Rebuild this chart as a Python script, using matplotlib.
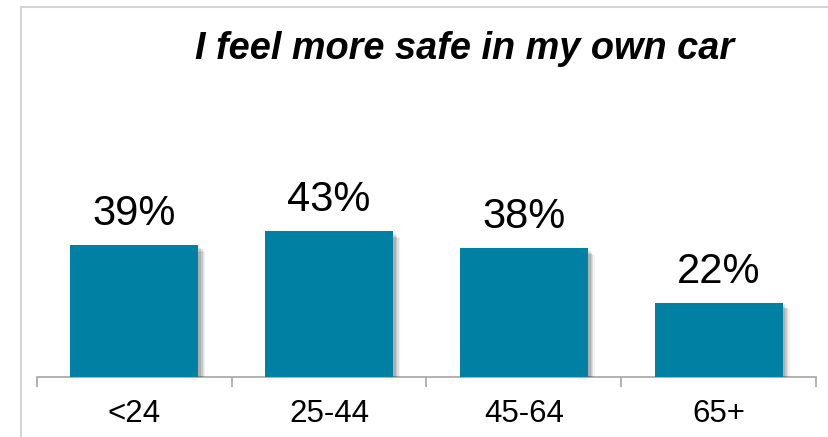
import matplotlib
matplotlib.use("Agg")
import matplotlib.pyplot as plt
import matplotlib.patheffects as pe
from matplotlib.lines import Line2D

categories = ["<24", "25-44", "45-64", "65+"]
values = [39, 43, 38, 22]
value_labels = ["39%", "43%", "38%", "22%"]
title = "I feel more safe in my own car"

plt.rcParams['font.family'] = ['Liberation Sans', 'DejaVu Sans']

W, H = 829, 437
fig = plt.figure(figsize=(W / 100, H / 100), dpi=100)
fig.patch.set_facecolor('white')

# outer border (left and top)
fig.add_artist(Line2D([21.5 / W, 21.5 / W], [0, (H - 6.5) / H], color='#d4d4d4', lw=1.5,
                      transform=fig.transFigure))
fig.add_artist(Line2D([21.5 / W, 1.0], [(H - 6.5) / H, (H - 6.5) / H], color='#d4d4d4', lw=1.5,
                      transform=fig.transFigure))

ax = fig.add_axes([37 / W, 60 / H, 779 / W, 338.5 / H])
x = list(range(len(categories)))

shadows = [pe.SimplePatchShadow(offset=(o, -o), shadow_rgbFace='#000000', alpha=a)
           for o, a in [(5, 0.05), (4, 0.08), (3, 0.10), (2, 0.12)]]
bars = ax.bar(x, values, width=0.657, color='#0080A3', zorder=3,
              path_effects=shadows + [pe.Normal()])

for xi, v, lab in zip(x, values, value_labels):
    ax.annotate(lab, xy=(xi, v), xytext=(0, 14.4), textcoords='offset points',
                ha='center', va='baseline', fontsize=30, color='black')

ax.set_xlim(-0.5, len(categories) - 0.5)
ax.set_ylim(0, 100)

for s in ['top', 'right', 'left']:
    ax.spines[s].set_visible(False)
ax.spines['bottom'].set_color('#a6a6a6')
ax.spines['bottom'].set_linewidth(1.2)
ax.set_yticks([])

ax.set_xticks([i - 0.5 for i in range(len(categories) + 1)])
ax.set_xticklabels([])
ax.tick_params(axis='x', which='major', length=7, width=1.2, color='#a6a6a6', direction='out')
ax.set_xticks(x, minor=True)
ax.set_xticklabels(categories, minor=True, fontsize=22.5)
ax.tick_params(axis='x', which='minor', length=0, pad=15.5)

fig.text(465 / W, (H - 59) / H, title, ha='center', va='baseline', fontsize=27.3,
         fontweight='bold', fontstyle='italic', color='black')

fig.savefig("out.png", dpi=100, facecolor='white')
